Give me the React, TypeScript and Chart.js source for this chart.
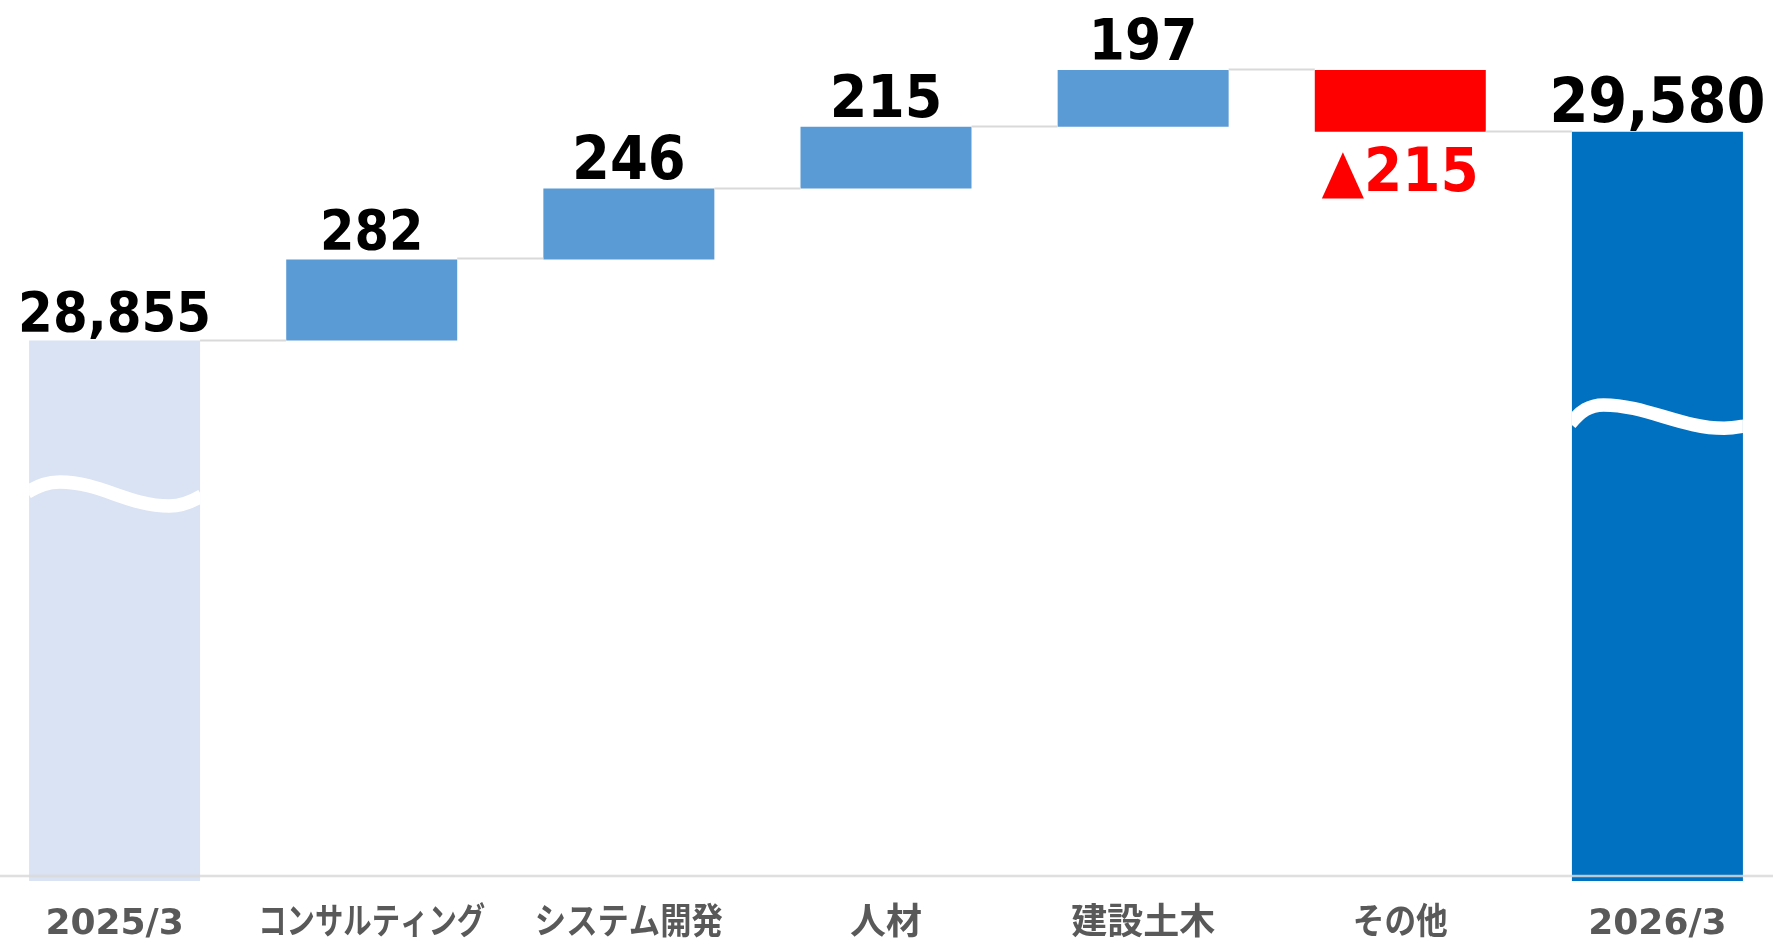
import { useEffect, useRef } from "react";
import { Chart, registerables } from "chart.js";

Chart.register(...registerables);

// ---------- data ----------
const categories = ["2025/3", "コンサルティング", "システム開発", "人材", "建設土木", "その他", "2026/3"];
const startTotal = 28855;
const segmentDeltas = [282, 246, 215, 197, -215];
const endTotal = 29580;
// broken (wave-cut) value axis
const axisFloor = 26978;
const axisCeiling = 30038;
// where the wave "cut" marks sit on the value axis (start bar, end bar)
const waveLevels = [28322, 28591];

// ---------- styles ----------
const COLOR_START = "#DAE3F3";
const COLOR_UP = "#5B9BD5";
const COLOR_DOWN = "#FF0000";
const COLOR_END = "#0070C0";
const valueFontSizes = [50, 49.5, 54.5, 54, 52, 55, 56];
const tickLabelWidths = [142, 227, 188, 72, 145, 95, 141];

function buildRanges(): [number, number][] {
  const out: [number, number][] = [[axisFloor, startTotal]];
  let level = startTotal;
  for (const d of segmentDeltas) {
    out.push(d >= 0 ? [level, level + d] : [level + d, level]);
    level += d;
  }
  out.push([axisFloor, endTotal]);
  return out;
}

function buildLevels(): number[] {
  const out = [startTotal];
  let level = startTotal;
  for (const d of segmentDeltas) {
    level += d;
    out.push(level);
  }
  return out;
}

function buildValueTexts(): string[] {
  const fmt = (v: number) => v.toLocaleString("en-US");
  return [
    fmt(startTotal),
    ...segmentDeltas.map((d) => (d >= 0 ? fmt(d) : "▲" + fmt(Math.abs(d)))),
    fmt(endTotal),
  ];
}

function buildColors(): string[] {
  return [COLOR_START, ...segmentDeltas.map((d) => (d >= 0 ? COLOR_UP : COLOR_DOWN)), COLOR_END];
}

type Wave = { t: number; dy: number }[];
// bezier description: start point, then triples of (c1, c2, end)
const waveShapes: { index: number; amp: number; pts: [number, number][] }[] = [
  {
    index: 0,
    amp: 12,
    pts: [
      [-0.01, -0.15],
      [0.06, -0.75], [0.11, -1], [0.18, -1],
      [0.42, -1], [0.58, 1], [0.82, 1],
      [0.89, 1], [0.95, 0.65], [1.01, 0.15],
    ],
  },
  {
    index: 6,
    amp: 11.7,
    pts: [
      [-0.01, 0.6],
      [0.05, -0.45], [0.1, -1], [0.185, -1],
      [0.43, -1], [0.64, 1], [0.89, 1],
      [0.94, 1], [0.97, 0.9], [1.01, 0.8],
    ],
  },
];

const decorPlugin = {
  id: "waterfallDecor",
  afterDatasetsDraw(chart: any) {
    const ctx: CanvasRenderingContext2D = chart.ctx;
    const meta = chart.getDatasetMeta(0);
    const y = chart.scales.y;
    const area = chart.chartArea;
    const levels = buildLevels();
    const texts = buildValueTexts();

    // wave cut marks
    waveShapes.forEach((w, k) => {
      const el = meta.data[w.index];
      const left = el.x - el.width / 2;
      const width = el.width;
      const top = Math.min(el.y, el.base);
      const bottom = Math.max(el.y, el.base);
      const c = y.getPixelForValue(waveLevels[k]);
      const P = (p: [number, number]) => [left + p[0] * width, c + p[1] * w.amp];
      ctx.save();
      ctx.beginPath();
      ctx.rect(left, top, width, bottom - top);
      ctx.clip();
      ctx.beginPath();
      const s = P(w.pts[0]);
      ctx.moveTo(s[0], s[1]);
      for (let i = 1; i + 2 < w.pts.length; i += 3) {
        const a = P(w.pts[i]);
        const b = P(w.pts[i + 1]);
        const e = P(w.pts[i + 2]);
        ctx.bezierCurveTo(a[0], a[1], b[0], b[1], e[0], e[1]);
      }
      ctx.strokeStyle = "#FFFFFF";
      ctx.lineWidth = 13.5;
      ctx.lineCap = "butt";
      ctx.stroke();
      ctx.restore();
    });

    // connectors
    ctx.save();
    ctx.strokeStyle = "#D9D9D9";
    ctx.lineWidth = 2;
    for (let i = 0; i < meta.data.length - 1; i++) {
      const a = meta.data[i];
      const b = meta.data[i + 1];
      const py = Math.round(y.getPixelForValue(levels[i])) - 0.5;
      ctx.beginPath();
      ctx.moveTo(a.x + a.width / 2, py);
      ctx.lineTo(b.x - b.width / 2, py);
      ctx.stroke();
    }
    ctx.restore();

    // base axis line
    ctx.save();
    ctx.strokeStyle = "rgba(217,217,217,0.85)";
    ctx.lineWidth = 2.5;
    const ay = area.bottom - 5;
    ctx.beginPath();
    ctx.moveTo(0, ay);
    ctx.lineTo(chart.width, ay);
    ctx.stroke();
    ctx.restore();

    // value labels
    const stretch = 1.1;
    meta.data.forEach((el: any, i: number) => {
      const size = valueFontSizes[i];
      const isNeg = i > 0 && i <= segmentDeltas.length && segmentDeltas[i - 1] < 0;
      const top = Math.min(el.y, el.base);
      const bottom = Math.max(el.y, el.base);
      const baseline = isNeg ? bottom + 15 + 0.729 * size * stretch : top - 10;
      ctx.save();
      ctx.font = `bold ${size}px "DejaVu Sans"`;
      ctx.fillStyle = isNeg ? "#FF0000" : "#000000";
      ctx.textAlign = "center";
      ctx.textBaseline = "alphabetic";
      ctx.translate(el.x, baseline);
      ctx.scale(1, stretch);
      ctx.fillText(texts[i], 0, 0);
      ctx.restore();
    });

    // category labels
    const xs = chart.scales.x;
    ctx.save();
    ctx.font = `bold 36px "DejaVu Sans", "Noto Sans CJK JP"`;
    ctx.fillStyle = "#595959";
    ctx.textAlign = "center";
    ctx.textBaseline = "alphabetic";
    categories.forEach((lab, i) => {
      const px = xs.getPixelForTick(i);
      ctx.fillText(lab, px, area.bottom + 53, tickLabelWidths[i]);
    });
    ctx.restore();
  },
};

export default function App() {
  const ref = useRef<HTMLCanvasElement | null>(null);

  useEffect(() => {
    if (!ref.current) return;
    const chart = new Chart(ref.current, {
      type: "bar",
      data: {
        labels: categories,
        datasets: [
          {
            data: buildRanges() as any,
            backgroundColor: buildColors(),
            borderWidth: 0,
            borderSkipped: false,
            barPercentage: 0.665,
            categoryPercentage: 1,
          },
        ],
      },
      options: {
        responsive: true,
        maintainAspectRatio: false,
        animation: false,
        layout: { padding: 0 },
        plugins: {
          legend: { display: false },
          tooltip: { enabled: false },
          title: { display: false },
        },
        scales: {
          x: {
            type: "category",
            offset: true,
            grid: { display: false, drawTicks: false },
            border: { display: false },
            ticks: { display: false },
            afterFit: (scale: any) => {
              scale.height = 57;
            },
          },
          y: {
            display: false,
            min: axisFloor,
            max: axisCeiling,
          },
        },
      },
      plugins: [decorPlugin],
    });
    return () => chart.destroy();
  }, []);

  return (
    <div
      style={{
        position: "fixed",
        left: 0,
        top: 0,
        width: 1773,
        height: 938,
        overflow: "hidden",
        background: "#FFFFFF",
      }}
    >
      <div style={{ position: "absolute", left: -14, top: 0, width: 1800, height: 938 }}>
        <canvas ref={ref} />
      </div>
    </div>
  );
}
